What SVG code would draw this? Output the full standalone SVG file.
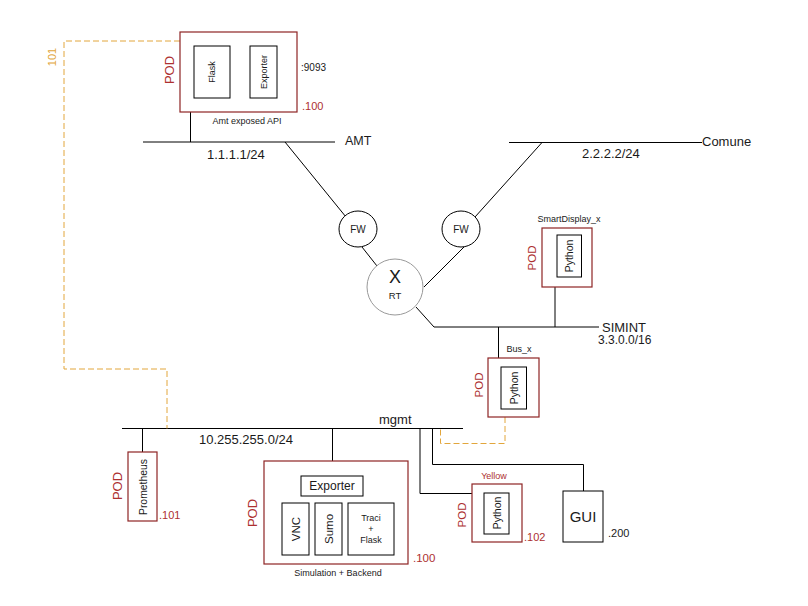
<svg xmlns="http://www.w3.org/2000/svg" width="808" height="606" viewBox="0 0 808 606">
  <style>
    text { font-family: "Liberation Sans", Arial, sans-serif; fill: #1a1a1a; }
    .c { text-anchor: middle; dominant-baseline: central; }
    .l { dominant-baseline: central; }
    .pod { fill: #fff; stroke: #8e2424; stroke-width: 1.2; }
    .box { fill: #fff; stroke: #000; stroke-width: 1; }
    .red { fill: #ad3030; }
    .net { stroke: #000; stroke-width: 1; fill: none; }
    .mon { stroke: #e2a63c; stroke-width: 1; fill: none; stroke-dasharray: 6 3; }
  </style>
  <rect width="808" height="606" fill="#fff"/>

  <!-- connectors: network segments, links and monitoring paths -->
  <g id="connectors">
    <!-- AMT segment -->
    <line class="net" x1="143" y1="142" x2="335" y2="142"/>
    <line class="net" x1="190.5" y1="112" x2="190.5" y2="142"/>
    <line class="net" x1="285" y1="142" x2="346" y2="217"/>
    <!-- Comune segment -->
    <line class="net" x1="509" y1="142.5" x2="702" y2="142.5"/>
    <line class="net" x1="542" y1="142.5" x2="475" y2="217"/>
    <!-- firewalls to router -->
    <line class="net" x1="362" y1="247" x2="377" y2="266"/>
    <line class="net" x1="465" y1="246" x2="424" y2="287"/>
    <!-- SIMINT segment -->
    <line class="net" x1="416" y1="307" x2="434" y2="327"/>
    <line class="net" x1="434" y1="327" x2="599" y2="327"/>
    <line class="net" x1="555" y1="287" x2="555" y2="327"/>
    <line class="net" x1="498.5" y1="327" x2="498.5" y2="358"/>
    <!-- mgmt segment -->
    <line class="net" x1="122" y1="428.5" x2="463" y2="428.5"/>
    <line class="net" x1="142.5" y1="428.5" x2="142.5" y2="452"/>
    <line class="net" x1="332.5" y1="428.5" x2="332.5" y2="461"/>
    <polyline class="net" points="420,428.5 420,493.5 472,493.5"/>
    <polyline class="net" points="432.5,428.5 432.5,464.5 583.5,464.5 583.5,491"/>
    <!-- monitoring paths -->
    <polyline class="mon" points="180,41 64,41 64,369 167,369 167,428.5"/>
    <polyline class="mon" points="505,417 505,443.5 440.5,443.5 440.5,428.5"/>
  </g>

  <!-- network labels -->
  <g id="labels">
    <text class="l" x="345" y="141" font-size="12.5">AMT</text>
    <text class="l" x="207" y="154" font-size="13">1.1.1.1/24</text>
    <text class="l" x="702" y="141" font-size="13">Comune</text>
    <text class="l" x="582" y="153" font-size="13">2.2.2.2/24</text>
    <text class="l" x="602" y="327" font-size="13">SIMINT</text>
    <text class="l" x="598" y="340" font-size="12">3.3.0.0/16</text>
    <text class="l" x="379" y="419" font-size="13">mgmt</text>
    <text class="l" x="199" y="439" font-size="13">10.255.255.0/24</text>
    <text class="c" transform="translate(52,57) rotate(-90)" font-size="11" style="fill:#e2a63c">101</text>
  </g>

  <!-- Amt exposed API pod -->
  <g id="amt-pod">
    <rect class="pod" x="180" y="32" width="117" height="80"/>
    <rect class="box" x="194" y="46" width="36" height="52"/>
    <text class="c" transform="translate(212,72) rotate(-90)" font-size="9">Flask</text>
    <rect class="box" x="250" y="46" width="27" height="52"/>
    <text class="c" transform="translate(263.5,72) rotate(-90)" font-size="9">Exporter</text>
    <text class="c red" transform="translate(169,70) rotate(-90)" font-size="13">POD</text>
    <text class="l" x="301" y="67" font-size="10">:9093</text>
    <text class="l red" x="302" y="106" font-size="11">.100</text>
    <text class="c" x="247" y="121" font-size="9">Amt exposed API</text>
  </g>

  <!-- firewalls -->
  <g id="fw-amt">
    <ellipse cx="358" cy="229" rx="19" ry="18" fill="#fff" stroke="#000"/>
    <text class="c" x="358" y="229" font-size="10">FW</text>
  </g>
  <g id="fw-comune">
    <ellipse cx="461" cy="229" rx="19" ry="18" fill="#fff" stroke="#000"/>
    <text class="c" x="461" y="229" font-size="10">FW</text>
  </g>

  <!-- router -->
  <g id="router">
    <circle cx="395" cy="287" r="28" fill="#fff" stroke="#999" stroke-width="1"/>
    <text class="c" x="395" y="277" font-size="18">X</text>
    <text class="c" x="395" y="295" font-size="9.5">RT</text>
  </g>

  <!-- SmartDisplay pod -->
  <g id="smartdisplay-pod">
    <rect class="pod" x="542" y="228" width="50" height="59"/>
    <rect class="box" x="557" y="235" width="24.5" height="42"/>
    <text class="c" transform="translate(569,256) rotate(-90)" font-size="10.5">Python</text>
    <text class="c red" transform="translate(532,258) rotate(-90)" font-size="11.5">POD</text>
    <text class="c" x="569" y="219" font-size="9">SmartDisplay_x</text>
  </g>

  <!-- Bus pod -->
  <g id="bus-pod">
    <rect class="pod" x="488" y="358" width="51" height="59"/>
    <rect class="box" x="501" y="367" width="25.5" height="42"/>
    <text class="c" transform="translate(514,388) rotate(-90)" font-size="10.5">Python</text>
    <text class="c red" transform="translate(479,385) rotate(-90)" font-size="11.5">POD</text>
    <text class="c" x="519" y="349" font-size="9">Bus_x</text>
  </g>

  <!-- Prometheus pod -->
  <g id="prometheus-pod">
    <rect class="pod" x="128" y="452" width="29" height="69"/>
    <text class="c" transform="translate(143,487) rotate(-90)" font-size="10.4">Prometheus</text>
    <text class="c red" transform="translate(117,486) rotate(-90)" font-size="13">POD</text>
    <text class="l red" x="159" y="515" font-size="11">.101</text>
  </g>

  <!-- Simulation + Backend pod -->
  <g id="simulation-pod">
    <rect class="pod" x="264" y="461" width="144" height="103"/>
    <rect class="box" x="301" y="476" width="62" height="20"/>
    <text class="c" x="332" y="486" font-size="12">Exporter</text>
    <rect class="box" x="282" y="503" width="27" height="52"/>
    <text class="c" transform="translate(296,529) rotate(-90)" font-size="11.5">VNC</text>
    <rect class="box" x="315" y="503" width="27" height="52"/>
    <text class="c" transform="translate(329,529) rotate(-90)" font-size="11.5">Sumo</text>
    <rect class="box" x="348" y="503" width="46" height="52"/>
    <text class="c" x="371" y="518" font-size="9">Traci</text>
    <text class="c" x="371" y="529" font-size="9">+</text>
    <text class="c" x="371" y="540" font-size="9">Flask</text>
    <text class="c red" transform="translate(252,513) rotate(-90)" font-size="13">POD</text>
    <text class="l red" x="413" y="558" font-size="11.5">.100</text>
    <text class="c" x="338" y="573" font-size="9">Simulation + Backend</text>
  </g>

  <!-- Yellow pod -->
  <g id="yellow-pod">
    <rect class="pod" x="472" y="484" width="50" height="58"/>
    <rect class="box" x="484" y="493" width="25" height="41"/>
    <text class="c" transform="translate(497,513) rotate(-90)" font-size="10.5">Python</text>
    <text class="c red" transform="translate(462,515) rotate(-90)" font-size="11.5">POD</text>
    <text class="c red" x="494" y="476" font-size="9">Yellow</text>
    <text class="l red" x="524" y="537" font-size="11">.102</text>
  </g>

  <!-- GUI host -->
  <g id="gui">
    <rect class="box" x="563" y="491" width="40" height="51"/>
    <text class="c" x="583" y="516" font-size="15">GUI</text>
    <text class="l" x="608" y="533" font-size="11">.200</text>
  </g>
</svg>
